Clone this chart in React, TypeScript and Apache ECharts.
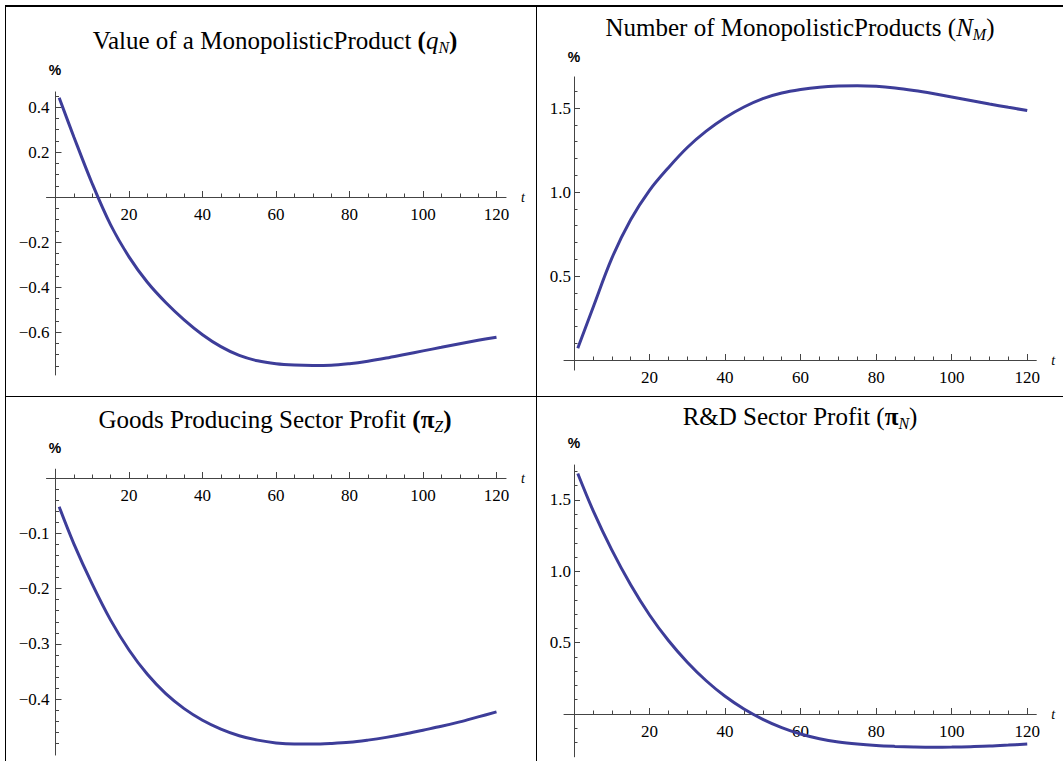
import React, { useEffect, useRef } from "react";
import * as echarts from "echarts";

// Time grid (periods after the shock) and impulse responses, in percent.
const T = [1, 5, 10, 15, 20, 25, 30, 35, 40, 45, 50, 55, 60, 65, 70, 75, 80, 85, 90, 95, 100, 105, 110, 115, 120];

const valueQN = [0.441, 0.267, 0.059, -0.124, -0.266, -0.379, -0.469, -0.546, -0.612, -0.665, -0.704, -0.728, -0.741, -0.747, -0.749, -0.748, -0.741, -0.73, -0.716, -0.7, -0.684, -0.668, -0.652, -0.637, -0.623];
const numberNM = [0.07, 0.31, 0.605, 0.835, 1.01, 1.145, 1.265, 1.362, 1.442, 1.506, 1.556, 1.589, 1.61, 1.624, 1.631, 1.633, 1.629, 1.619, 1.604, 1.586, 1.566, 1.545, 1.524, 1.504, 1.485];
const profitPiZ = [-0.052, -0.119, -0.192, -0.257, -0.311, -0.355, -0.39, -0.417, -0.438, -0.454, -0.466, -0.474, -0.479, -0.481, -0.481, -0.48, -0.478, -0.474, -0.469, -0.463, -0.456, -0.449, -0.441, -0.432, -0.423];
const profitPiN = [1.685, 1.429, 1.15, 0.906, 0.694, 0.515, 0.363, 0.233, 0.124, 0.035, -0.037, -0.095, -0.14, -0.173, -0.196, -0.211, -0.221, -0.227, -0.231, -0.233, -0.232, -0.229, -0.225, -0.218, -0.21];

// Tick values
const X_MAJOR = [20, 40, 60, 80, 100, 120];
const X_MINOR = [5, 10, 15, 25, 30, 35, 45, 50, 55, 65, 70, 75, 85, 90, 95, 105, 110, 115];
const Y1_MAJOR = [-0.6, -0.4, -0.2, 0.2, 0.4];
const Y1_MINOR = [-0.75, -0.7, -0.65, -0.55, -0.5, -0.45, -0.35, -0.3, -0.25, -0.15, -0.1, -0.05, 0.05, 0.1, 0.15, 0.25, 0.3, 0.35, 0.45];
const Y2_MAJOR = [0.5, 1.0, 1.5];
const Y2_MINOR = [0.1, 0.2, 0.3, 0.4, 0.6, 0.7, 0.8, 0.9, 1.1, 1.2, 1.3, 1.4, 1.6];
const Y3_MAJOR = [-0.4, -0.3, -0.2, -0.1];
const Y3_MINOR = [-0.48, -0.46, -0.44, -0.42, -0.38, -0.36, -0.34, -0.32, -0.28, -0.26, -0.24, -0.22, -0.18, -0.16, -0.14, -0.12, -0.08, -0.06, -0.04, -0.02];
const Y4_MAJOR = [0.5, 1.0, 1.5];
const Y4_MINOR = [-0.2, -0.1, 0.1, 0.2, 0.3, 0.4, 0.6, 0.7, 0.8, 0.9, 1.1, 1.2, 1.3, 1.4, 1.6, 1.7];

const SERIF = '"Liberation Serif", "Times New Roman", serif';
const AXIS_COLOR = "#444";
const CURVE_COLOR = "#3d3d99";

type Panel = {
  data: number[];
  x0: number; sx: number; xmin: number; xmax: number;
  y0: number; sy: number; ymin: number; ymax: number;
  yMajor: number[]; yMinor: number[];
  yLabelMargin: number;
  title: string; titleX: number; titleY: number;
  pctX: number; pctY: number;
};

const panels: Panel[] = [
  {
    data: valueQN,
    x0: 55.5, sx: 3.675, xmin: -2.45, xmax: 122.6,
    y0: 197, sy: 225, ymin: -0.791, ymax: 0.467,
    yMajor: Y1_MAJOR, yMinor: Y1_MINOR, yLabelMargin: 6,
    title: "{r|Value of a MonopolisticProduct }{pb|(}{i|q}{s|N}{pb|)}",
    titleX: 275, titleY: 40, pctX: 55, pctY: 70,
  },
  {
    data: numberNM,
    x0: 574, sx: 3.777, xmin: -2.65, xmax: 122.4,
    y0: 360, sy: 168, ymin: -0.06, ymax: 1.685,
    yMajor: Y2_MAJOR, yMinor: Y2_MINOR, yLabelMargin: 3,
    title: "{r|Number of MonopolisticProducts }{r|(}{i|N}{s|M}{r|)}",
    titleX: 800, titleY: 27, pctX: 574, pctY: 57,
  },
  {
    data: profitPiZ,
    x0: 55.5, sx: 3.675, xmin: -2.45, xmax: 122.6,
    y0: 478, sy: 553, ymin: -0.501, ymax: 0.016,
    yMajor: Y3_MAJOR, yMinor: Y3_MINOR, yLabelMargin: 6,
    title: "{r|Goods Producing Sector Profit }{pb|(}{b|π}{s|Z}{pb|)}",
    titleX: 275, titleY: 419, pctX: 55, pctY: 448,
  },
  {
    data: profitPiN,
    x0: 574, sx: 3.777, xmin: -2.65, xmax: 122.4,
    y0: 714, sy: 142.7, ymin: -0.3, ymax: 1.745,
    yMajor: Y4_MAJOR, yMinor: Y4_MINOR, yLabelMargin: 3,
    title: "{r|R&D Sector Profit }{r|(}{b|π}{s|N}{r|)}",
    titleX: 800, titleY: 416, pctX: 574, pctY: 443,
  },
];

const fmt = (v: number) => (v < 0 ? "\u2212" : "") + Math.abs(v).toFixed(1);

const TITLE_SIZE = 25;
const titleRich = {
  r: { fontFamily: SERIF, fontSize: TITLE_SIZE, lineHeight: 30, color: "#000" },
  pb: { fontFamily: SERIF, fontSize: TITLE_SIZE, lineHeight: 30, fontWeight: "bold", color: "#000" },
  b: { fontFamily: SERIF, fontSize: TITLE_SIZE, lineHeight: 30, fontWeight: "bold", color: "#000" },
  i: { fontFamily: SERIF, fontSize: TITLE_SIZE, lineHeight: 30, fontStyle: "italic", color: "#000" },
  s: { fontFamily: SERIF, fontSize: 16, lineHeight: 14, fontStyle: "italic", verticalAlign: "bottom", color: "#000" },
};

function buildOption() {
  const grid: any[] = [];
  const xAxis: any[] = [];
  const yAxis: any[] = [];
  const series: any[] = [];
  const graphic: any[] = [];

  panels.forEach((p, i) => {
    const rect = {
      left: p.x0 + p.xmin * p.sx,
      top: p.y0 - p.ymax * p.sy,
      width: (p.xmax - p.xmin) * p.sx,
      height: (p.ymax - p.ymin) * p.sy,
      containLabel: false,
      outerBoundsMode: "none",
    };
    // axes cross at the origin: shift them in from the grid edges
    const xOffset = p.ymin * p.sy;
    const yOffset = p.xmin * p.sx;

    // main grid: axis lines, major ticks, labels, curve
    grid.push({ ...rect });
    // overlay grid: minor ticks only
    grid.push({ ...rect });
    const gMain = 2 * i;
    const gMinor = 2 * i + 1;

    xAxis.push({
      type: "value", gridIndex: gMain, min: p.xmin, max: p.xmax,
      position: "bottom", offset: xOffset,
      axisLine: { show: true, onZero: false, lineStyle: { color: AXIS_COLOR, width: 1 } },
      axisTick: { show: true, inside: true, length: 6, customValues: X_MAJOR, lineStyle: { color: AXIS_COLOR } },
      axisLabel: {
        show: true, customValues: X_MAJOR, margin: 9, color: "#000",
        fontFamily: SERIF, fontSize: 17, formatter: (v: number) => String(Math.round(v)),
      },
      splitLine: { show: false },
      name: "t", nameLocation: "end", nameGap: 15,
      nameTextStyle: { fontFamily: SERIF, fontStyle: "italic", fontSize: 14, color: "#000" },
    });
    xAxis.push({
      type: "value", gridIndex: gMinor, min: p.xmin, max: p.xmax,
      position: "bottom", offset: xOffset,
      axisLine: { show: false, onZero: false },
      axisTick: { show: true, inside: true, length: 3.5, customValues: X_MINOR, lineStyle: { color: AXIS_COLOR } },
      axisLabel: { show: false },
      splitLine: { show: false },
    });

    yAxis.push({
      type: "value", gridIndex: gMain, min: p.ymin, max: p.ymax,
      position: "left", offset: yOffset,
      axisLine: { show: true, onZero: false, lineStyle: { color: AXIS_COLOR, width: 1 } },
      axisTick: { show: true, inside: true, length: 6, customValues: p.yMajor, lineStyle: { color: AXIS_COLOR } },
      axisLabel: {
        show: true, customValues: p.yMajor, margin: p.yLabelMargin, color: "#000",
        fontFamily: SERIF, fontSize: 17, formatter: fmt,
      },
      splitLine: { show: false },
    });
    yAxis.push({
      type: "value", gridIndex: gMinor, min: p.ymin, max: p.ymax,
      position: "left", offset: yOffset,
      axisLine: { show: false, onZero: false },
      axisTick: { show: true, inside: true, length: 3.5, customValues: p.yMinor, lineStyle: { color: AXIS_COLOR } },
      axisLabel: { show: false },
      splitLine: { show: false },
    });

    series.push({
      type: "line",
      xAxisIndex: gMain,
      yAxisIndex: gMain,
      data: T.map((t, k) => [t, p.data[k]]),
      showSymbol: false,
      smooth: 0.35,
      lineStyle: { color: CURVE_COLOR, width: 3 },
      z: 5,
    });

    graphic.push({
      type: "text", x: p.titleX, y: p.titleY, z: 10,
      style: { text: p.title, rich: titleRich, align: "center", verticalAlign: "middle" },
    });
    graphic.push({
      type: "text", x: p.pctX, y: p.pctY, z: 10,
      style: {
        text: "%", fontFamily: '"Liberation Sans", Arial, sans-serif', fontWeight: "bold",
        fontSize: 14, fill: "#000", align: "center", verticalAlign: "middle",
      },
    });
  });

  // table rules around the four panels
  const rule = (x1: number, y1: number, x2: number, y2: number, w: number) => ({
    type: "line", z: 20,
    shape: { x1, y1, x2, y2 },
    style: { stroke: "#000", lineWidth: w },
  });
  graphic.push(rule(5, 6, 1063, 6, 2));
  graphic.push(rule(5.5, 5, 5.5, 761, 1));
  graphic.push(rule(536.5, 5, 536.5, 761, 1));
  graphic.push(rule(5, 396.5, 1063, 396.5, 1));

  return {
    animation: false,
    backgroundColor: "#fff",
    grid, xAxis, yAxis, series, graphic,
  };
}

export default function App() {
  const ref = useRef<HTMLDivElement>(null);
  useEffect(() => {
    if (!ref.current) return;
    const chart = echarts.init(ref.current, null, { renderer: "svg" });
    chart.setOption(buildOption() as any);
    return () => chart.dispose();
  }, []);
  return (
    <div
      ref={ref}
      style={{ position: "fixed", left: 0, top: 0, width: 1063, height: 761, background: "#fff" }}
    />
  );
}
